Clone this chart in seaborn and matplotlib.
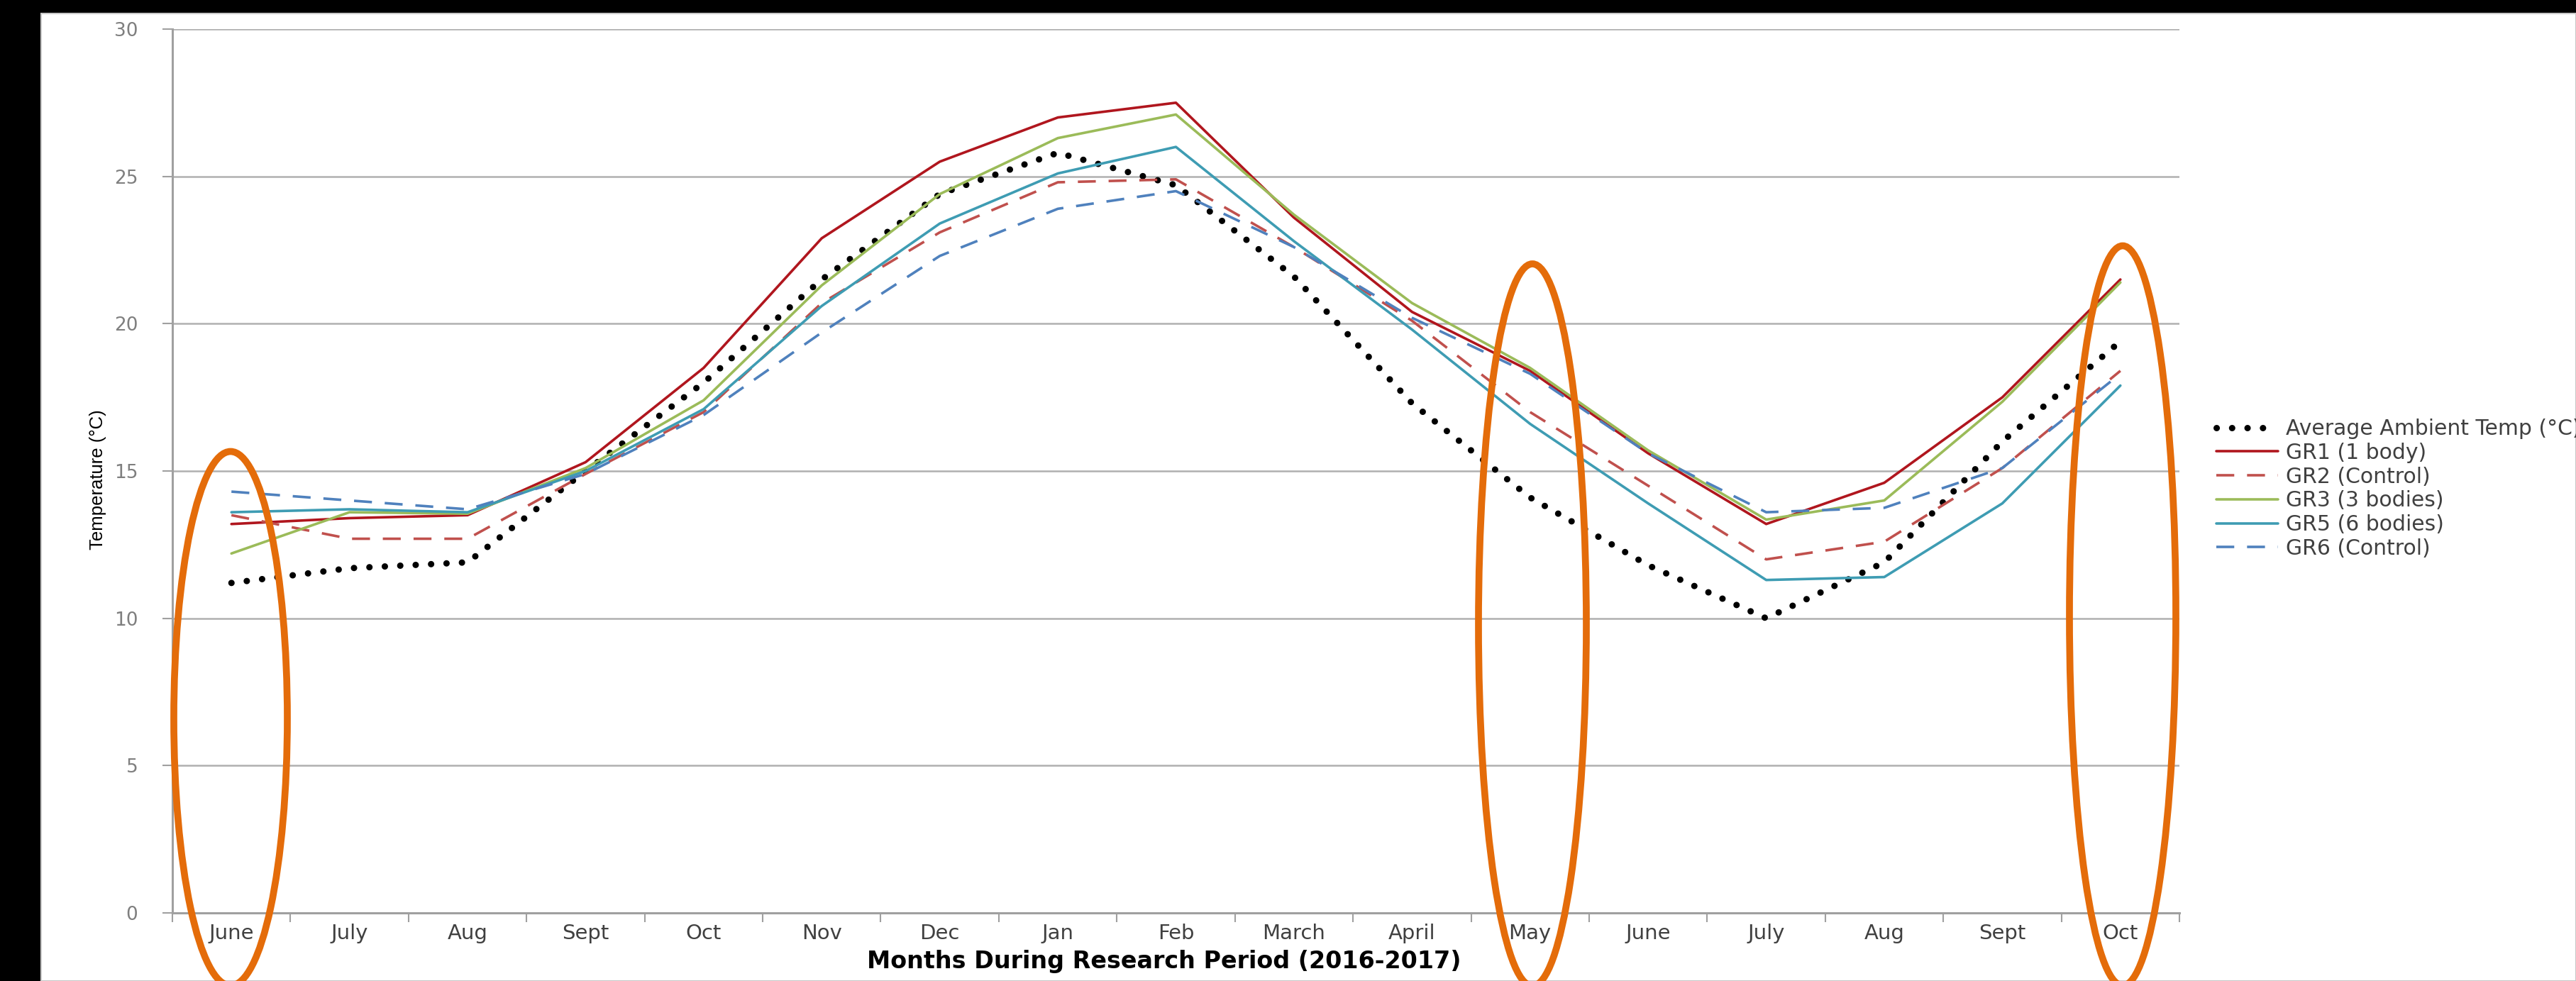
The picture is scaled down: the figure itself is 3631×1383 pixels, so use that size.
import numpy as np
import pandas as pd
import matplotlib
matplotlib.use('Agg')
import matplotlib.pyplot as plt
from matplotlib.patches import Ellipse, Rectangle
from matplotlib.ticker import FixedLocator, NullFormatter
import seaborn as sns

# --- Data ---
months = ['June', 'July', 'Aug', 'Sept', 'Oct', 'Nov', 'Dec', 'Jan', 'Feb',
          'March', 'April', 'May', 'June', 'July', 'Aug', 'Sept', 'Oct']
ambient = [11.2, 11.7, 11.9, 15.0, 18.0, 21.5, 24.4, 25.8, 24.7, 21.6, 17.3, 14.1, 11.8, 10.0, 11.9, 16.0, 19.4]
gr1 = [13.2, 13.4, 13.5, 15.3, 18.5, 22.9, 25.5, 27.0, 27.5, 23.6, 20.4, 18.4, 15.6, 13.2, 14.6, 17.5, 21.5]
gr2 = [13.5, 12.7, 12.7, 14.9, 17.0, 20.7, 23.1, 24.8, 24.9, 22.6, 20.1, 17.0, 14.5, 12.0, 12.6, 15.1, 18.4]
gr3 = [12.2, 13.6, 13.55, 15.1, 17.4, 21.3, 24.4, 26.3, 27.1, 23.7, 20.7, 18.5, 15.7, 13.35, 14.0, 17.35, 21.4]
gr5 = [13.6, 13.7, 13.6, 15.0, 17.1, 20.6, 23.4, 25.1, 26.0, 22.8, 19.8, 16.6, 13.9, 11.3, 11.4, 13.9, 17.9]
gr6 = [14.3, 14.0, 13.7, 14.9, 16.9, 19.7, 22.3, 23.9, 24.5, 22.6, 20.2, 18.3, 15.6, 13.6, 13.75, 15.1, 18.3]
series_names = ['Average Ambient Temp (°C)', 'GR1 (1 body)', 'GR2 (Control)',
                'GR3 (3 bodies)', 'GR5 (6 bodies)', 'GR6 (Control)']

sns.set_theme(style="white")
plt.rcParams['font.family'] = ['DejaVu Sans']
plt.rcParams['axes.unicode_minus'] = False

W, H, DPI = 3631, 1383, 100
fig = plt.figure(figsize=(W / DPI, H / DPI), dpi=DPI, facecolor='black')
# white slide panel inside black border
fig.add_artist(Rectangle((58 / W, 0), 1 - 58 / W, 1 - 19 / H, transform=fig.transFigure,
                         facecolor='white', edgecolor='#c8c8c8', linewidth=1.5, zorder=0))

ax = fig.add_axes([243 / W, 1 - 1287 / H, (3072 - 243) / W, (1287 - 41) / H])
ax.set_facecolor('white')

x = np.arange(len(months))
df = pd.DataFrame({'pos': x, 'ambient': ambient, 'gr1': gr1, 'gr2': gr2,
                   'gr3': gr3, 'gr5': gr5, 'gr6': gr6})

styles = [
    ('ambient', '#000000', 6.5, (0.01, 2.4)),
    ('gr1', '#B0161E', 2.6, None),
    ('gr2', '#C0504D', 2.6, (7, 5)),
    ('gr3', '#9BBB59', 2.6, None),
    ('gr5', '#3E9CB3', 2.6, None),
    ('gr6', '#4F81BD', 2.6, (7, 5)),
]
for (col, color, lw, dash), name in zip(styles, series_names):
    sns.lineplot(data=df, x='pos', y=col, ax=ax, color=color, linewidth=lw, label=name)
    line = ax.lines[-1]
    if dash is not None:
        line.set_dashes(dash)
        line.set_dash_capstyle('round' if col == 'ambient' else 'butt')

ax.set_xlim(-0.5, len(months) - 0.5)
ax.set_ylim(0, 30)
ax.set_yticks(np.arange(0, 31, 5))
ax.grid(True, axis='y', color='#b0b0b0', linewidth=1.8)
ax.set_axisbelow(True)

# category labels centred, tick marks on the boundaries (Excel style)
ax.set_xticks(x)
ax.set_xticklabels(months)
ax.xaxis.set_minor_locator(FixedLocator(np.arange(-0.5, len(months), 1)))
ax.xaxis.set_minor_formatter(NullFormatter())
ax.tick_params(axis='x', which='major', length=0, pad=11, labelsize=21, labelcolor='#404040')
ax.tick_params(axis='x', which='minor', bottom=True, direction='out', length=9, width=1.5, color='#a0a0a0')
ax.tick_params(axis='y', which='major', left=True, direction='out', length=10, width=1.5,
               color='#a0a0a0', pad=25, labelsize=19, labelcolor='#7f7f7f')

for side in ['top', 'right']:
    ax.spines[side].set_visible(False)
for side in ['left', 'bottom']:
    ax.spines[side].set_color('#a0a0a0')
    ax.spines[side].set_linewidth(2.2)

ax.set_xlabel('Months During Research Period (2016-2017)', fontsize=24, fontweight='bold', color='black')
ax.xaxis.set_label_coords(0.494, -0.042)
ax.set_ylabel('Temperature (°C)', fontsize=18.5, color='black',
              family=['Liberation Sans', 'DejaVu Sans'])
ax.yaxis.set_label_coords(-0.033, 0.49)

leg = ax.legend(loc='upper left', bbox_to_anchor=(3124 / W, 1 - 590 / H),
                bbox_transform=fig.transFigure, frameon=False, fontsize=21.5,
                handlelength=2.9, handletextpad=0.37, labelspacing=0.16,
                borderpad=0, borderaxespad=0)
for t in leg.get_texts():
    t.set_color('#404040')

# orange highlight ellipses (pixel positions from the slide)
for cx, cy, ew, eh in [(325, 1013, 160, 753), (2160, 881, 152, 1018), (2992, 868, 150, 1043)]:
    fig.add_artist(Ellipse((cx / W, 1 - cy / H), ew / W, eh / H, transform=fig.transFigure,
                           fill=False, edgecolor='#E46C0A', linewidth=7, zorder=10, clip_on=False))

fig.savefig('out.png', dpi=DPI, facecolor=fig.get_facecolor())
